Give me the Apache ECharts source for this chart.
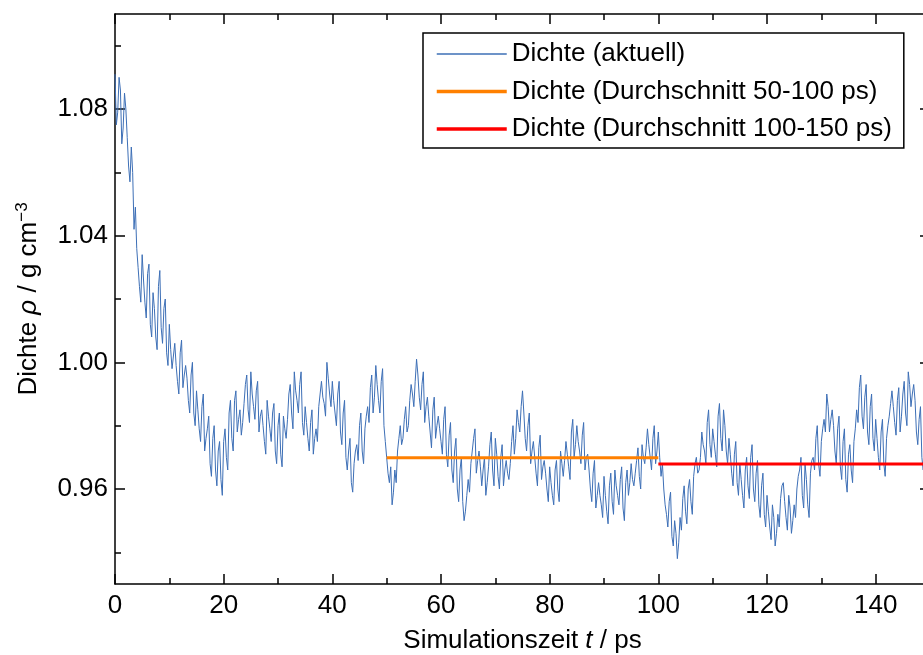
<!DOCTYPE html>
<html><head><meta charset="utf-8">
<script src="https://cdn.jsdelivr.net/npm/echarts@6/dist/echarts.min.js"></script>
<style>html,body{margin:0;padding:0;background:#fff}#c{width:923px;height:655px}</style>
</head><body><div id="c"></div>
<script>
// sampling interval of the plotted trajectory (ps)
const timeStep = 0.5;
// density values, one per 0.5 ps from 0 to 150 ps
const density = [
  1.091,1.079,1.086,1.074,1.080,1.062,1.068,1.042,1.036,1.024,
  1.034,1.019,1.028,1.012,1.022,1.008,1.024,1.011,1.017,1.003,
  1.012,0.998,1.006,0.994,1.003,0.992,0.999,0.988,0.996,0.984,
  0.991,0.979,0.986,0.972,0.979,0.968,0.976,0.966,0.972,0.963,
  0.975,0.970,0.984,0.976,0.988,0.978,0.985,0.981,0.993,0.985,
  0.997,0.986,0.991,0.978,0.985,0.975,0.988,0.979,0.984,0.972,
  0.980,0.971,0.983,0.976,0.990,0.984,0.997,0.988,0.993,0.981,
  0.986,0.976,0.981,0.971,0.979,0.986,0.994,0.987,1.000,0.990,
  0.994,0.984,0.990,0.978,0.984,0.970,0.972,0.962,0.968,0.974,
  0.980,0.972,0.979,0.986,0.992,0.984,0.999,0.988,0.994,0.980,
  0.970,0.962,0.955,0.966,0.972,0.980,0.976,0.986,0.980,0.993,
  0.986,1.001,0.989,0.993,0.981,0.989,0.978,0.985,0.976,0.983,
  0.975,0.982,0.971,0.977,0.966,0.972,0.960,0.966,0.956,0.953,
  0.963,0.968,0.976,0.965,0.972,0.961,0.970,0.962,0.974,0.966,
  0.976,0.964,0.970,0.961,0.969,0.963,0.975,0.971,0.985,0.978,
  0.991,0.976,0.980,0.968,0.975,0.965,0.973,0.963,0.969,0.960,
  0.967,0.958,0.966,0.960,0.972,0.964,0.975,0.967,0.978,0.970,
  0.980,0.972,0.977,0.966,0.971,0.960,0.965,0.954,0.962,0.955,
  0.964,0.953,0.961,0.956,0.966,0.958,0.963,0.954,0.962,0.958,
  0.968,0.961,0.969,0.964,0.974,0.968,0.979,0.970,0.976,0.968,
  0.978,0.964,0.960,0.952,0.956,0.945,0.950,0.938,0.951,0.957,
  0.953,0.960,0.956,0.964,0.970,0.966,0.978,0.972,0.981,0.974,
  0.979,0.971,0.983,0.976,0.985,0.972,0.976,0.965,0.971,0.962,
  0.968,0.958,0.966,0.961,0.970,0.960,0.965,0.955,0.961,0.952,
  0.958,0.948,0.955,0.942,0.952,0.957,0.962,0.951,0.958,0.946,
  0.955,0.960,0.966,0.958,0.968,0.955,0.965,0.970,0.976,0.968,
  0.975,0.982,0.990,0.978,0.985,0.972,0.979,0.967,0.975,0.963,
  0.971,0.966,0.975,0.985,0.992,0.983,0.989,0.978,0.986,0.976,
  0.982,0.970,0.978,0.968,0.976,0.983,0.991,0.981,0.988,0.978,
  0.990,0.984,0.997,0.986,0.993,0.978,0.982,0.970,0.975,0.966,
  0.972
];
// fluctuation values read between the samples above (at 0.25, 0.75, ... ps)
const densityMid = [
  1.075,1.090,1.069,1.085,1.071,1.057,1.060,1.049,1.030,1.019,
  1.026,1.014,1.031,1.008,1.017,1.004,1.029,1.006,1.020,0.999,
  1.004,1.002,0.999,0.990,1.007,0.996,0.995,0.984,1.000,0.980,
  0.985,0.975,0.990,0.976,0.983,0.964,0.980,0.961,0.975,0.958,
  0.979,0.966,0.988,0.972,0.991,0.982,0.977,0.987,0.996,0.981,
  0.990,0.982,0.994,0.983,0.980,0.971,0.983,0.975,0.987,0.968,
  0.984,0.967,0.979,0.982,0.993,0.979,0.991,0.984,0.997,0.977,
  0.981,0.972,0.985,0.976,0.975,0.990,0.989,0.983,0.995,0.986,
  0.988,0.980,0.994,0.974,0.988,0.966,0.976,0.959,0.972,0.969,
  0.984,0.968,0.983,0.981,0.996,0.989,0.993,0.984,0.998,0.975,
  0.965,0.967,0.959,0.962,0.976,0.974,0.982,0.978,0.988,0.990,
  0.994,0.996,0.985,0.997,0.986,0.983,0.973,0.989,0.980,0.979,
  0.971,0.986,0.967,0.981,0.962,0.976,0.956,0.970,0.950,0.958,
  0.959,0.972,0.979,0.969,0.967,0.966,0.958,0.967,0.978,0.961,
  0.971,0.960,0.974,0.966,0.965,0.968,0.980,0.976,0.981,0.986,
  0.984,0.972,0.984,0.972,0.970,0.961,0.977,0.967,0.965,0.956,
  0.962,0.955,0.969,0.956,0.968,0.969,0.971,0.963,0.982,0.974,
  0.975,0.968,0.981,0.970,0.966,0.956,0.969,0.958,0.958,0.951,
  0.958,0.949,0.965,0.952,0.961,0.955,0.967,0.950,0.966,0.962,
  0.963,0.965,0.973,0.960,0.970,0.973,0.974,0.966,0.980,0.972,
  0.970,0.968,0.955,0.948,0.959,0.942,0.946,0.943,0.947,0.961,
  0.949,0.963,0.952,0.968,0.965,0.970,0.974,0.968,0.985,0.970,
  0.975,0.967,0.987,0.972,0.980,0.968,0.971,0.961,0.975,0.958,
  0.963,0.954,0.970,0.957,0.974,0.956,0.969,0.951,0.965,0.948,
  0.953,0.944,0.951,0.946,0.948,0.961,0.956,0.947,0.954,0.950,
  0.951,0.964,0.970,0.954,0.963,0.951,0.969,0.966,0.980,0.964,
  0.979,0.978,0.986,0.982,0.980,0.968,0.983,0.963,0.979,0.959,
  0.974,0.962,0.979,0.981,0.996,0.979,0.993,0.974,0.990,0.972,
  0.976,0.966,0.982,0.964,0.980,0.987,0.986,0.977,0.992,0.983,
  0.994,0.980,0.993,0.990,0.988,0.974,0.986,0.966,0.979,0.962
];
// averages
const avgRange1 = [50, 100];
const avgValue1 = 0.9699;
const avgRange2 = [100, 150];
const avgValue2 = 0.9679;

const seriesNames = ['Dichte (aktuell)', 'Dichte (Durchschnitt 50-100 ps)', 'Dichte (Durchschnitt 100-150 ps)'];
const xMajorTicks = [0, 20, 40, 60, 80, 100, 120, 140];
const xMinorTicks = [10, 30, 50, 70, 90, 110, 130];
const yMajorTicks = [0.96, 1.00, 1.04, 1.08];
const yMinorTicks = [0.94, 0.98, 1.02, 1.06, 1.10];
const xRange = [0, 150];
const yRange = [0.93, 1.11];

const FONT = '"Liberation Sans", Arial, sans-serif';
const FS = 26;
const BLUE = '#3d6fb6', ORANGE = '#ff8000', RED = '#ff0000';

// interleave the samples and the in-between readings
const densityData = [];
for (let i = 0; i < density.length; i++) {
  densityData.push([i * timeStep, density[i]]);
  if (i < densityMid.length) densityData.push([i * timeStep + timeStep / 2, densityMid[i]]);
}

function axis(dim, position, ticks, len, withLine, withLabels, extra) {
  const range = dim === 'x' ? xRange : yRange;
  const a = {
    type: 'value', position: position, min: range[0], max: range[1],
    splitLine: { show: false },
    axisLine: { show: withLine, onZero: false, lineStyle: { color: '#000', width: 1.5 } },
    axisTick: { show: true, inside: true, length: len, customValues: ticks,
      lineStyle: { color: '#000', width: 1.5 } },
    axisLabel: { show: withLabels },
    minorTick: { show: false }
  };
  if (withLabels) {
    a.axisLabel = {
      show: true, customValues: ticks, color: '#000', fontFamily: FONT, fontSize: FS,
      margin: dim === 'x' ? 9 : 7,
      formatter: dim === 'x' ? (v) => String(v) : (v) => v.toFixed(2)
    };
  }
  return Object.assign(a, extra || {});
}

const chart = echarts.init(document.getElementById('c'), null, { renderer: 'canvas' });
chart.setOption({
  animation: false,
  backgroundColor: '#fff',
  grid: { left: 115, top: 14, right: -7, bottom: 71, containLabel: false, outerBoundsMode: 'none' },
  xAxis: [
    axis('x', 'bottom', xMajorTicks, 10, true, true, {
      name: '{n|Simulationszeit }{i|t}{n| / ps}', nameLocation: 'middle', nameGap: 44,
      nameTextStyle: { rich: {
        n: { fontFamily: FONT, fontSize: FS, color: '#000' },
        i: { fontFamily: FONT, fontSize: FS, fontStyle: 'italic', color: '#000' } } }
    }),
    axis('x', 'bottom', xMinorTicks, 6, false, false),
    axis('x', 'top', xMajorTicks, 10, true, false),
    axis('x', 'top', xMinorTicks, 6, false, false)
  ],
  yAxis: [
    axis('y', 'left', yMajorTicks, 10, true, true, {
      name: '{n|Dichte }{i|ρ}{n| / g cm}{s|−3}', nameLocation: 'middle', nameGap: 72,
      nameTextStyle: { rich: {
        n: { fontFamily: FONT, fontSize: FS, color: '#000' },
        i: { fontFamily: FONT, fontSize: FS, fontStyle: 'italic', color: '#000' },
        s: { fontFamily: FONT, fontSize: 17, color: '#000', verticalAlign: 'top', padding: [0, 0, 12, 0] } } }
    }),
    axis('y', 'left', yMinorTicks, 6, false, false),
    axis('y', 'right', yMajorTicks, 10, true, false),
    axis('y', 'right', yMinorTicks, 6, false, false)
  ],
  legend: {
    left: 423, top: 33, orient: 'vertical',
    padding: [8, 12, 6, 12],
    itemWidth: 70, itemHeight: 4, itemGap: 11.5,
    borderColor: '#000', borderWidth: 1.5, backgroundColor: '#fff', borderRadius: 0,
    itemStyle: { opacity: 0 },
    textStyle: { fontFamily: FONT, fontSize: FS, color: '#000' },
    data: [
      { name: seriesNames[0], lineStyle: { width: 1.5, color: BLUE } },
      { name: seriesNames[1], lineStyle: { width: 3.5, color: ORANGE } },
      { name: seriesNames[2], lineStyle: { width: 3.5, color: RED } }
    ]
  },
  series: [
    { name: seriesNames[0], type: 'line', xAxisIndex: 0, yAxisIndex: 0, symbol: 'none',
      data: densityData, lineStyle: { color: BLUE, width: 1 }, itemStyle: { color: BLUE }, z: 2 },
    { name: seriesNames[1], type: 'line', xAxisIndex: 0, yAxisIndex: 0, symbol: 'none',
      data: [[avgRange1[0], avgValue1], [avgRange1[1], avgValue1]],
      lineStyle: { color: ORANGE, width: 3 }, itemStyle: { color: ORANGE }, z: 3 },
    { name: seriesNames[2], type: 'line', xAxisIndex: 0, yAxisIndex: 0, symbol: 'none',
      data: [[avgRange2[0], avgValue2], [avgRange2[1], avgValue2]],
      lineStyle: { color: RED, width: 3 }, itemStyle: { color: RED }, z: 3 }
  ]
});
</script></body></html>
